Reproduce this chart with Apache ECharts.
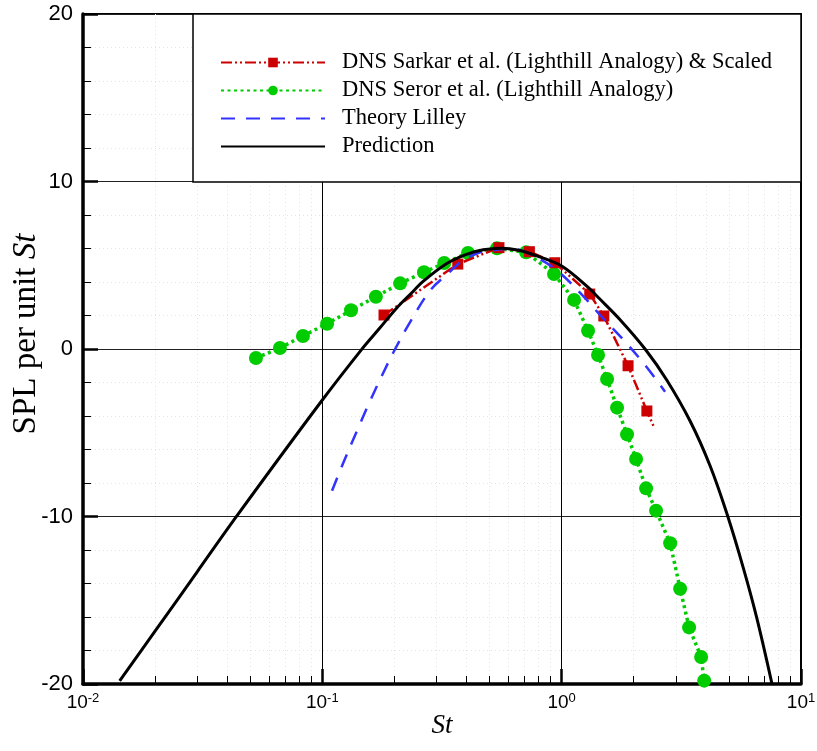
<!DOCTYPE html>
<html><head><meta charset="utf-8">
<script src="https://cdn.jsdelivr.net/npm/echarts@6/dist/echarts.min.js"></script>
<style>html,body{margin:0;padding:0;background:#fff}#c{width:817px;height:751px}</style>
</head><body><div id="c"></div>
<script>
// ---- data ----
const legendNames = [
  'DNS Sarkar et al. (Lighthill Analogy) & Scaled',
  'DNS Seror et al. (Lighthill Analogy)',
  'Theory Lilley',
  'Prediction'
];
const sarkarSt  = [0.181, 0.368, 0.547, 0.733, 0.936, 1.31, 1.50, 1.894, 2.27, 2.416];
const sarkarSPL = [2.03, 5.07, 6.05, 5.81, 5.15, 3.28, 1.97, -1.0, -3.70, -4.58];
const sarkarMarked = [true, true, true, true, true, true, true, true, true, false];

const serorSt  = [0.0528, 0.0665, 0.083, 0.1047, 0.1318, 0.1674, 0.2114, 0.266, 0.323, 0.406, 0.537, 0.710, 0.929,
                  1.127, 1.289, 1.419, 1.548, 1.704, 1.876, 2.046, 2.253, 2.48, 2.84, 3.126, 3.407, 3.826, 3.94];
const serorSPL = [-0.54, 0.06, 0.78, 1.51, 2.31, 3.12, 3.92, 4.58, 5.13, 5.73, 6.01, 5.77, 4.48,
                  2.93, 1.09, -0.36, -1.79, -3.50, -5.10, -6.57, -8.32, -9.65, -11.6, -14.31, -16.62, -18.39, -19.8];

const lilleySt  = [0.1098, 0.1225, 0.1394, 0.1556, 0.177, 0.201, 0.232, 0.282, 0.336, 0.388, 0.442, 0.494, 0.627,
                   0.79, 0.984, 1.273, 1.447, 1.84, 2.231, 2.704];
const lilleySPL = [-8.46, -6.78, -4.90, -3.34, -1.62, -0.03, 1.58, 3.49, 4.53, 5.30, 5.70, 5.87, 5.97,
                   5.45, 4.54, 2.93, 2.03, 0.44, -0.96, -2.55];

const predSt  = [0.01423, 0.02, 0.03, 0.04371, 0.0991, 0.1455, 0.1738, 0.2046, 0.2399, 0.2643, 0.331, 0.40, 0.47,
                 0.56, 0.66, 0.81, 1.0, 1.273, 1.447, 1.754, 2.231, 2.748, 3.44, 4.169, 4.897, 5.743, 6.53, 7.55];
const predSPL = [-19.82, -16.85, -13.3, -10.01, -3.12, -0.05, 1.25, 2.45, 3.45, 4.05, 5.1, 5.65, 5.92,
                 6.02, 5.9, 5.5, 4.95, 3.75, 2.97, 1.75, 0.0, -1.85, -4.3, -6.97, -9.81, -13.08, -16.04, -19.94];

const xMajorTicks = [0.01, 0.1, 1, 10];
const xMinorTicks = [0.02,0.03,0.04,0.05,0.06,0.07,0.08,0.09,
                     0.2,0.3,0.4,0.5,0.6,0.7,0.8,0.9,
                     2,3,4,5,6,7,8,9];
const yTicks = [-20, -10, 0, 10, 20];

// ---- build ----
const zip = (a, b) => a.map((v, i) => [v, b[i]]);
const serif = 'Liberation Serif';
const sans = 'Liberation Sans';
const narrow = '"Liberation Sans Narrow", "Liberation Sans"';
const noSym = {color: 'rgba(0,0,0,0)', borderWidth: 0};

const chart = echarts.init(document.getElementById('c'), null, {renderer: 'canvas'});
chart.setOption({
  animation: false,
  backgroundColor: '#fff',
  grid: {left: 83, top: 14, right: 16, bottom: 67, containLabel: false, outerBoundsMode: 'none',
         show: true, borderColor: '#000', borderWidth: 2, backgroundColor: 'transparent'},
  graphic: [{
    type: 'rect', z: 3, silent: true,
    shape: {x: 193, y: 14, width: 608, height: 168},
    style: {fill: '#fff', stroke: '#000', lineWidth: 1.5}
  }],
  legend: {
    orient: 'vertical', left: 220, top: 51, padding: 0, z: 5,
    itemWidth: 104, itemHeight: 12, itemGap: 5,
    data: [
      {name: legendNames[0]},
      {name: legendNames[1]},
      {name: legendNames[2], itemStyle: noSym},
      {name: legendNames[3], itemStyle: noSym}
    ],
    textStyle: {fontFamily: serif, fontSize: 22.5, lineHeight: 20, color: '#000', padding: [0, 0, 0, 12]}
  },
  xAxis: [{
    type: 'log', logBase: 10, min: xMajorTicks[0], max: xMajorTicks[xMajorTicks.length - 1],
    name: 'St', nameLocation: 'middle', nameGap: 28, nameMoveOverlap: false,
    nameTextStyle: {fontFamily: serif, fontStyle: 'italic', fontSize: 27, color: '#000'},
    axisLine: {show: true, onZero: false, lineStyle: {color: '#000', width: 3.5}},
    axisTick: {show: true, inside: true, length: 15, lineStyle: {color: '#000', width: 2.5}},
    axisLabel: {
      margin: 8, color: '#000',
      formatter: v => '{n|10}{e|' + Math.round(Math.log10(v)) + '}',
      rich: {
        n: {fontFamily: narrow, fontSize: 19, color: '#000'},
        e: {fontFamily: narrow, fontSize: 13, color: '#000', padding: [0, 0, 9, 0]}
      }
    },
    splitLine: {show: true, lineStyle: {color: '#000', width: 1}}
  }, {
    type: 'log', logBase: 10, min: xMajorTicks[0], max: xMajorTicks[xMajorTicks.length - 1],
    position: 'bottom', gridIndex: 0,
    axisLine: {show: false, onZero: false}, axisLabel: {show: false},
    axisTick: {show: true, inside: true, length: 8, customValues: xMinorTicks, lineStyle: {color: '#000', width: 1}},
    splitLine: {show: true, lineStyle: {color: '#e4e4e4', width: 1, type: [1, 3]}}
  }],
  yAxis: {
    type: 'value', min: yTicks[0], max: yTicks[yTicks.length - 1], interval: 10,
    name: '{a|SPL per unit }{b|St}', nameLocation: 'middle', nameGap: 40, nameMoveOverlap: false,
    nameTextStyle: {
      padding: [0, 0, 0, 30],
      rich: {
        a: {fontFamily: serif, fontSize: 33, color: '#000'},
        b: {fontFamily: serif, fontSize: 33, fontStyle: 'italic', color: '#000'}
      }
    },
    axisLine: {show: true, onZero: false, lineStyle: {color: '#000', width: 3.5}},
    axisTick: {show: true, inside: true, length: 15, lineStyle: {color: '#000', width: 2.5}},
    minorTick: {show: true, splitNumber: 5, length: 8, lineStyle: {color: '#000', width: 1}},
    minorSplitLine: {show: true, lineStyle: {color: '#e4e4e4', width: 1, type: [1, 3]}},
    axisLabel: {margin: 10, color: '#000', fontFamily: sans, fontSize: 22},
    splitLine: {show: true, lineStyle: {color: '#222', width: 1}}
  },
  series: [{
    name: legendNames[1], type: 'line', z: 2,
    data: zip(serorSt, serorSPL),
    symbol: 'circle', symbolSize: 14,
    itemStyle: {color: '#00cc00'},
    lineStyle: {color: '#00cc00', width: 3.5, type: [3, 3.5]}
  }, {
    name: legendNames[0], type: 'line', z: 3,
    data: zip(sarkarSt, sarkarSPL).map((p, i) => sarkarMarked[i] ? p : {value: p, symbol: 'none'}),
    symbol: 'rect', symbolSize: 11,
    itemStyle: {color: '#cc0000'},
    lineStyle: {color: '#cc0000', width: 2.5, type: [11, 3, 2, 3, 2, 3]}
  }, {
    name: legendNames[2], type: 'line', z: 4,
    data: zip(lilleySt, lilleySPL), smooth: 0.35,
    symbol: 'none',
    itemStyle: {color: '#3333ff'},
    lineStyle: {color: '#3333ff', width: 2.5, type: [14, 11]}
  }, {
    name: legendNames[3], type: 'line', z: 5,
    data: zip(predSt, predSPL), smooth: 0.35,
    symbol: 'none',
    itemStyle: {color: '#000'},
    lineStyle: {color: '#000', width: 3}
  }]
});
</script>
</body></html>
